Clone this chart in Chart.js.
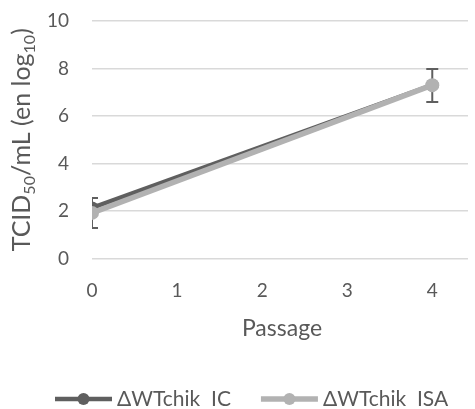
<!DOCTYPE html>
<html>
<head>
<meta charset="utf-8">
<script src="https://cdn.jsdelivr.net/npm/chart.js@4.4.1/dist/chart.umd.min.js"></script>
<style>
  html, body { margin:0; padding:0; background:#fff; }
  #wrap { width:475px; height:409px; position:relative; }
</style>
</head>
<body>
<div id="wrap"><canvas id="chart"></canvas></div>
<script>
// Data
const passages    = [0, 4];
const seriesNames = ['ΔWTchik  IC', 'ΔWTchik  ISA'];
const icValues    = [2.13, 7.3];
const isaValues   = [1.92, 7.3];
const isaErrLow   = [1.28, 6.59];
const isaErrHigh  = [2.55, 7.98];
const xTicks      = [0, 1, 2, 3, 4];
const yTicks      = [0, 2, 4, 6, 8, 10];

const FONT = 'Lato';
const TEXT = '#595959';
const DARK = '#5f5f5f';
const LIGHT = '#b2b2b2';

function pts(vals) { return passages.map((p, i) => ({x: p, y: vals[i]})); }

// ── ERROR BARS ──
const errorBars = {
  id: 'errorBars',
  beforeDatasetsDraw(chart) {
    const {ctx, chartArea, scales} = chart;
    ctx.save();
    ctx.beginPath();
    ctx.rect(chartArea.left, chartArea.top, chartArea.width, chartArea.height);
    ctx.clip();
    ctx.strokeStyle = DARK;
    ctx.lineWidth = 2;
    passages.forEach((p, i) => {
      const x = scales.x.getPixelForValue(p);
      const yl = scales.y.getPixelForValue(isaErrLow[i]);
      const yh = scales.y.getPixelForValue(isaErrHigh[i]);
      ctx.beginPath();
      ctx.moveTo(x, yl); ctx.lineTo(x, yh);
      ctx.moveTo(x - 6, yl); ctx.lineTo(x + 6, yl);
      ctx.moveTo(x - 6, yh); ctx.lineTo(x + 6, yh);
      ctx.stroke();
    });
    ctx.restore();
  }
};

// ── AXIS TITLES + LEGEND ──
const extras = {
  id: 'extras',
  afterDraw(chart) {
    const {ctx, chartArea} = chart;
    ctx.save();
    ctx.fillStyle = TEXT;
    ctx.textBaseline = 'alphabetic';

    // x title
    ctx.font = `23px ${FONT}`;
    ctx.textAlign = 'center';
    ctx.fillText('Passage', (chartArea.left + chartArea.right) / 2 + 2, 336);

    // y title with subscripts
    const parts = [['TCID', false], ['50', true], ['/mL (en log', false], ['10', true], [')', false]];
    const big = 25, small = 16;
    let total = 0;
    parts.forEach(([t, sub]) => { ctx.font = `${sub ? small : big}px ${FONT}`; total += ctx.measureText(t).width; });
    ctx.translate(30, (chartArea.top + chartArea.bottom) / 2);
    ctx.rotate(-Math.PI / 2);
    ctx.textAlign = 'left';
    let x = -total / 2;
    parts.forEach(([t, sub]) => {
      ctx.font = `${sub ? small : big}px ${FONT}`;
      ctx.fillText(t, x, sub ? 5 : 0);
      x += ctx.measureText(t).width;
    });
    ctx.restore();

    // legend
    ctx.save();
    ctx.font = `21px ${FONT}`;
    ctx.textAlign = 'left';
    ctx.textBaseline = 'middle';
    const ly = 399;
    let lx = 55;
    chart.data.datasets.forEach(ds => {
      ctx.strokeStyle = ds.borderColor;
      ctx.lineWidth = ds.borderWidth;
      ctx.beginPath(); ctx.moveTo(lx, ly); ctx.lineTo(lx + 57, ly); ctx.stroke();
      ctx.fillStyle = ds.borderColor;
      ctx.beginPath(); ctx.arc(lx + 28.5, ly, 6, 0, Math.PI * 2); ctx.fill();
      ctx.fillStyle = TEXT;
      ctx.fillText(ds.label, lx + 62, ly);
      lx += 62 + ctx.measureText(ds.label).width + 30;
    });
    ctx.restore();
  }
};

new Chart(document.getElementById('chart'), {
  type: 'line',
  data: {
    datasets: [
      {
        label: seriesNames[0], data: pts(icValues), order: 1,
        borderColor: DARK, backgroundColor: DARK, borderWidth: 4.5,
        pointRadius: 6.5, pointBorderWidth: 0, pointBackgroundColor: DARK
      },
      {
        label: seriesNames[1], data: pts(isaValues), order: 0,
        borderColor: LIGHT, backgroundColor: LIGHT, borderWidth: 5.5,
        pointRadius: 7, pointBorderWidth: 0, pointBackgroundColor: LIGHT
      }
    ]
  },
  options: {
    responsive: true, maintainAspectRatio: false, animation: false,
    layout: { padding: { top: 21, right: 1, left: 0, bottom: 0 } },
    plugins: { legend: { display: false }, tooltip: { enabled: false } },
    scales: {
      x: {
        type: 'linear', min: 0, max: 4.42,
        afterBuildTicks: s => { s.ticks = xTicks.map(v => ({value: v})); },
        afterFit: s => { s.height = 150.5; s.paddingLeft = 0; s.paddingRight = 0; },
        grid: { display: false },
        border: { display: false },
        ticks: { color: TEXT, font: { family: FONT, size: 19 }, padding: 13, maxRotation: 0 }
      },
      y: {
        min: 0, max: 10,
        afterBuildTicks: s => { s.ticks = yTicks.map(v => ({value: v})); },
        afterFit: s => { s.width = 92; s.paddingTop = 0; s.paddingBottom = 0; },
        grid: { color: '#d9d9d9', lineWidth: 1.5, drawTicks: false },
        border: { display: false },
        ticks: { color: TEXT, font: { family: FONT, size: 19 }, padding: 23 }
      }
    }
  },
  plugins: [errorBars, extras]
});
</script>
</body>
</html>
